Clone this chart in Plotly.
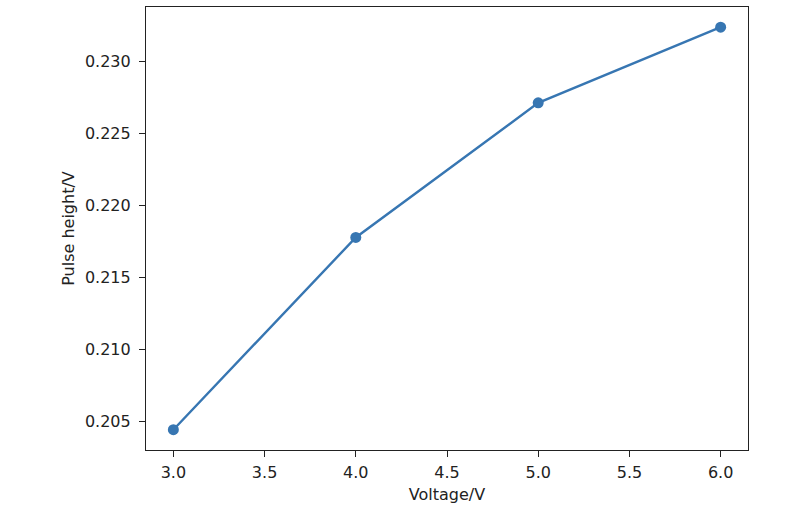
import plotly.graph_objects as go

voltage = [3.0, 4.0, 5.0, 6.0]
pulse_height = [0.20442, 0.21778, 0.22713, 0.23239]
x_ticks = [3.0, 3.5, 4.0, 4.5, 5.0, 5.5, 6.0]
y_ticks = [0.205, 0.210, 0.215, 0.220, 0.225, 0.230]

color = "#3776b2"
fig = go.Figure()
fig.add_trace(go.Scatter(
    x=voltage, y=pulse_height, mode="lines+markers",
    line=dict(color=color, width=2.4),
    marker=dict(color=color, size=11),
    showlegend=False,
))

axis_common = dict(
    showline=True, linecolor="#222", linewidth=1.2, mirror=True,
    ticks="outside", ticklen=6, tickwidth=1.2, tickcolor="#222",
    showgrid=False, zeroline=False,
    tickfont=dict(family="DejaVu Sans", size=16, color="#222"),
)

fig.update_layout(
    width=800, height=506,
    margin=dict(l=146, r=52, t=6, b=52),
    paper_bgcolor="white", plot_bgcolor="white",
    font=dict(family="DejaVu Sans", size=16, color="#222"),
    xaxis=dict(
        range=[2.85, 6.15], tickvals=x_ticks,
        ticktext=[f"{v:.1f}" for v in x_ticks],
        ticklabelstandoff=2,
        title=dict(text="Voltage/V", standoff=7,
                   font=dict(family="DejaVu Sans", size=16, color="#222")),
        **axis_common,
    ),
    yaxis=dict(
        range=[0.20301, 0.23379], tickvals=y_ticks,
        ticktext=[f"{v:.3f}" for v in y_ticks],
        ticklabelstandoff=5,
        title=dict(text="Pulse height/V", standoff=6,
                   font=dict(family="DejaVu Sans", size=16, color="#222")),
        **axis_common,
    ),
)

fig.write_html(
    "out.html",
    config={"displayModeBar": False},
    post_script="document.body.style.margin='0px';document.body.style.overflow='hidden';",
)
